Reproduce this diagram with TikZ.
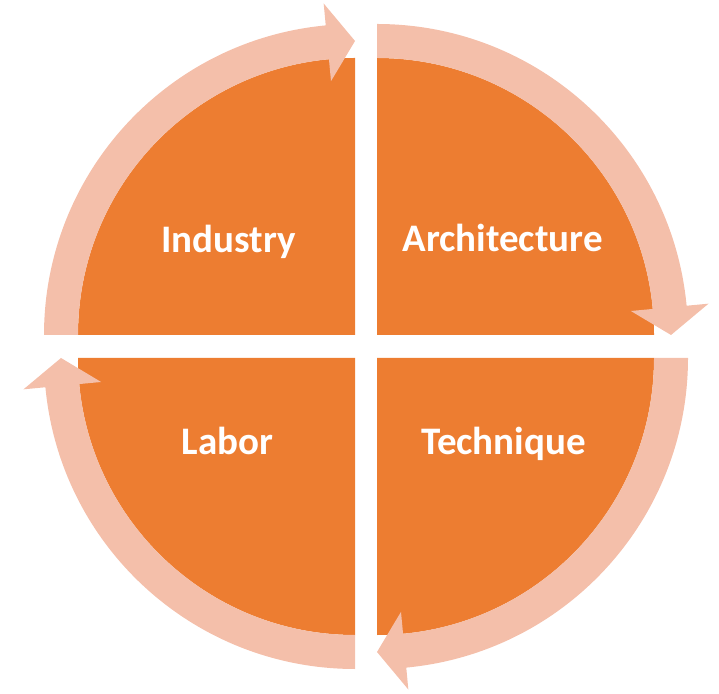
\documentclass[tikz,border=0pt]{standalone}
\usepackage{fontspec}
\setmainfont{Carlito}
\definecolor{sectorcol}{HTML}{ED7D31}
\definecolor{bandcol}{HTML}{F4BFAA}
\newcommand\cyclearrow[2]{%
  \pgfmathsetmacro\arrbase{#2-90+5.4}%
  \pgfmathsetmacro\arrend{#2-90}%
  \begin{scope}[shift={(#1)}]
    \fill[bandfill] (#2:277) -- (#2:311)
      arc[start angle=#2, end angle=\arrbase, radius=311]
      -- (\arrbase:333) -- (\arrend:294) -- (\arrbase:255) -- (\arrbase:277)
      arc[start angle=\arrbase, end angle=#2, radius=277] -- cycle;
  \end{scope}}
\begin{document}
\begin{tikzpicture}[x=1pt,y=1pt,
  sectorfill/.style={fill=sectorcol},
  bandfill/.style={fill=bandcol},
  lbl/.style={text=white, font=\fontsize{39}{44}\selectfont\bfseries, anchor=base, inner sep=0pt}]
\useasboundingbox (0,0) rectangle (719,693);
\coordinate (TL) at (355,358);
\coordinate (TR) at (377,358);
\coordinate (BR) at (377,335);
\coordinate (BL) at (355,335);
% sectors
\fill[sectorfill] (TL) -- ++(180:277) arc[start angle=180, end angle=90, radius=277] -- cycle;
\fill[sectorfill] (TR) -- ++(90:277) arc[start angle=90, end angle=0, radius=277] -- cycle;
\fill[sectorfill] (BR) -- ++(0:277) arc[start angle=0, end angle=-90, radius=277] -- cycle;
\fill[sectorfill] (BL) -- ++(270:277) arc[start angle=270, end angle=180, radius=277] -- cycle;
% circular arrows
\cyclearrow{TL}{180}
\cyclearrow{TR}{90}
\cyclearrow{BR}{0}
\cyclearrow{BL}{270}
% labels
\node[lbl] (industry) at (228.5,440) {Industry};
\node[lbl] (architecture) at (502.5,441) {Architecture};
\node[lbl] (labor) at (227.5,238) {Labor};
\node[lbl] (technique) at (503.5,238) {Technique};
\end{tikzpicture}
\end{document}
